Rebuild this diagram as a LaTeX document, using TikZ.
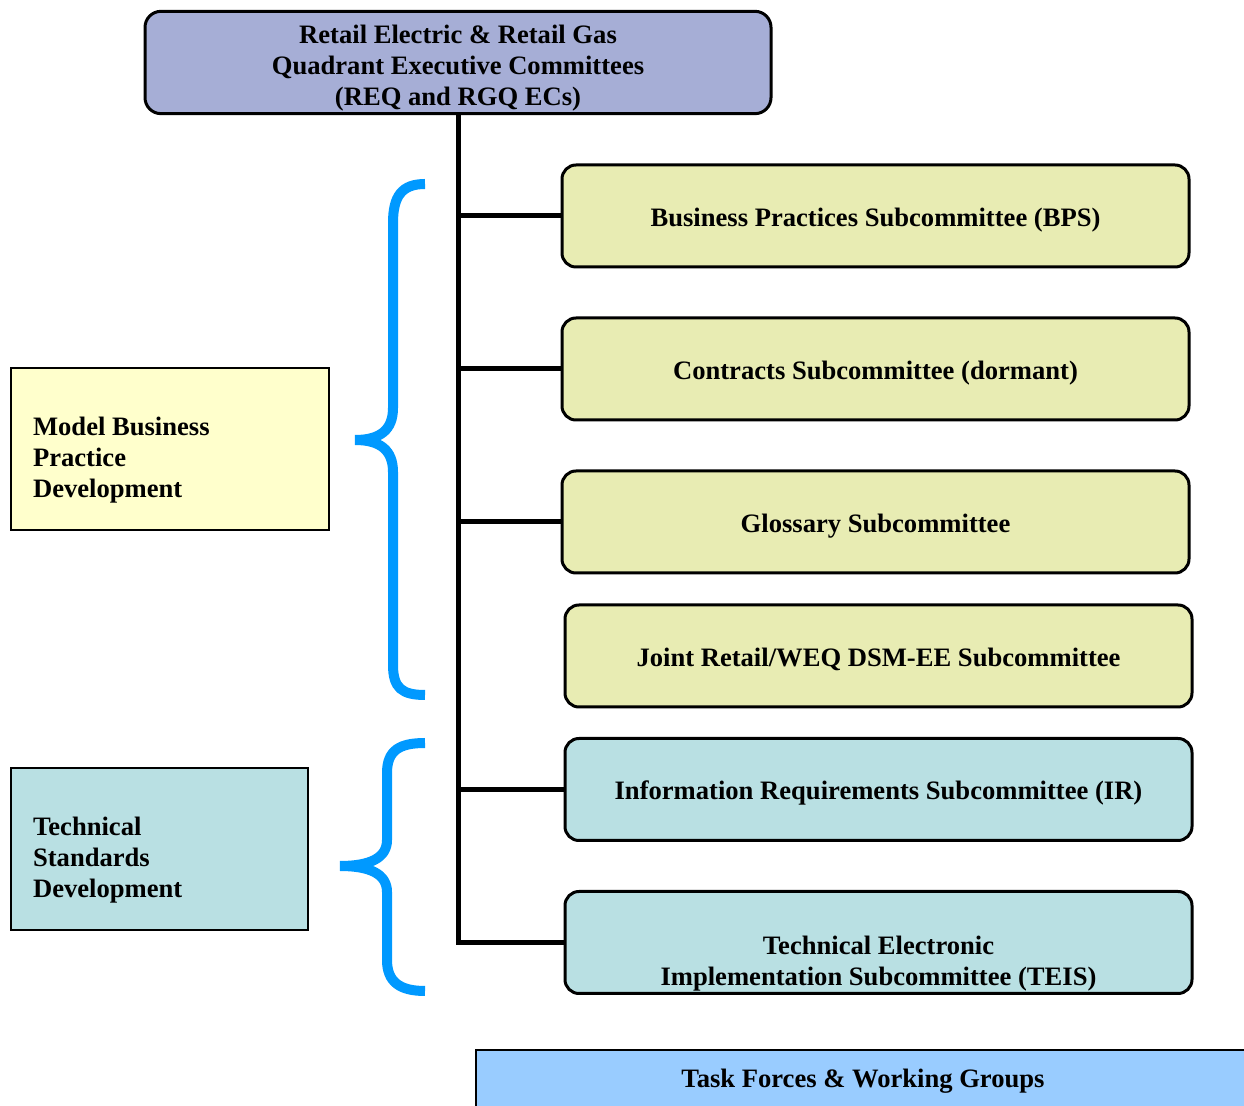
\documentclass[tikz,border=0pt]{standalone}
\usepackage{fontspec}
\setmainfont{Liberation Serif}
\usepackage{tikz}
\usetikzlibrary{positioning}
\definecolor{ecblue}{RGB}{166,174,214}
\definecolor{subyellow}{RGB}{232,236,179}
\definecolor{subteal}{RGB}{185,224,227}
\definecolor{mbpyellow}{RGB}{255,255,204}
\definecolor{tfblue}{RGB}{153,204,255}
\definecolor{bracecol}{RGB}{0,153,255}

\begin{document}
\begin{tikzpicture} [x = 0.5pt, y = -0.5pt,
  every node/.style = {font = \bfseries\fontsize{13.3}{15.5}\selectfont},
  subbox/.style = {draw, rounded corners = 7pt, line width = 1.5pt, minimum width = 313.5pt, minimum height = 51pt, align = center, text height = 12pt, text depth = 1.5pt},
  sidebox/.style = {draw, line width = 1pt, minimum height = 81pt},
  link/.style = {line width = 2.5pt},
  bracket/.style = {line width = 5pt, draw = bracecol}]
\useasboundingbox (0,0) rectangle (1244,1106);
\node[subbox, fill = ecblue, minimum width = 313pt, minimum height = 50.5pt, rounded corners = 8pt, text height = 44pt, text depth = 0.5pt] (ec) at (458,62.5) {Retail Electric \& Retail Gas\\Quadrant Executive Committees\\(REQ and RGQ ECs)};
\node[subbox, fill = subyellow] (bps) at (875.5,216) {Business Practices Subcommittee (BPS)};
\node[subbox, fill = subyellow] (contracts) at (875.5,369) {Contracts Subcommittee (dormant)};
\node[subbox, fill = subyellow] (glossary) at (875.5,522) {Glossary Subcommittee};
\node[subbox, fill = subyellow] (joint) at (878.5,656) {Joint Retail/WEQ DSM-EE Subcommittee};
\node[subbox, fill = subteal] (ir) at (878.5,789.5) {Information Requirements Subcommittee (IR)};
\node[subbox, fill = subteal] (teis) at (878.5,942.5) {};
\node (teis-text) at (878.5,964) [align = center] {Technical Electronic\\Implementation Subcommittee (TEIS)};
\node[draw, line width = 1pt, fill = tfblue, minimum width = 387pt, minimum height = 31pt] (tasks) at (863,1081) {Task Forces \& Working Groups};
\node[sidebox, fill = mbpyellow, minimum width = 159pt] (mbp) at (170,449) {};
\node[anchor = west, align = left] (mbp-text) at (26,460) {Model Business\\Practice\\Development};
\node[sidebox, fill = subteal, minimum width = 148.5pt] (tsd) at (159.5,849) {};
\node[anchor = west, align = left] (tsd-text) at (26,860) {Technical\\Standards\\Development};
\draw [link] (ec.south) |- (teis.west);
\draw [link] (ec.south |- bps.west) -- (bps.west);
\draw [link] (ec.south |- contracts.west) -- (contracts.west);
\draw [link] (ec.south |- glossary.west) -- (glossary.west);
\draw [link] (ec.south |- ir.west) -- (ir.west);
\draw [bracket] (425,184) .. controls (402,184) and (393,196) .. (393,223) -- (393,408) .. controls (393,430) and (380,440) .. (355,440) .. controls (380,440) and (393,450) .. (393,472) -- (393,665) .. controls (393,688) and (402,695) .. (425,695);
\draw [bracket] (425,743) .. controls (400,743) and (387,750) .. (387,773) -- (387,840) .. controls (387,858) and (370,866) .. (340,866) .. controls (370,866) and (387,874) .. (387,892) -- (387,960) .. controls (387,982) and (400,991) .. (425,991);
\end{tikzpicture}
\end{document}
